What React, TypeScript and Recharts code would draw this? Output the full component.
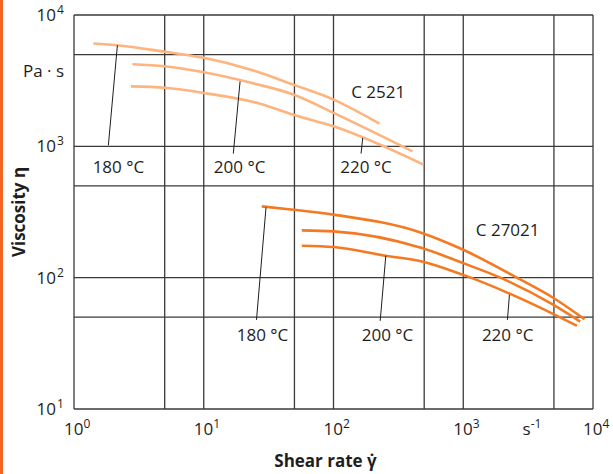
import { LineChart, Line, XAxis, YAxis, ReferenceLine, ReferenceDot } from "recharts";

const FONT = '"Open Sans", "Noto Sans", sans-serif';
const LIGHT = "#FDB47E";
const DARK = "#F47A22";
const GRID = "#3a3a3a";
const INK = "#1e1e1e";

// C 2521 (shear rate 1/s, viscosity Pa·s)
const c2521Rate180 = [1.41, 2.13, 5, 10, 22.7, 49, 100, 226];
const c2521Visc180 = [6070, 5890, 5250, 4720, 3850, 2950, 2270, 1490];
const c2521Rate200 = [2.82, 5, 10, 22.7, 49, 100, 406];
const c2521Visc200 = [4220, 4070, 3660, 3060, 2480, 1800, 916];
const c2521Rate220 = [2.75, 5, 10, 27.2, 49, 100, 493];
const c2521Visc220 = [2860, 2790, 2550, 2110, 1740, 1420, 726];

// C 27021
const c27021Rate180 = [28, 49, 100, 480, 1000, 2590, 4960, 8600];
const c27021Visc180 = [349, 329, 302, 219, 163, 100, 70, 48.3];
const c27021Rate200 = [57, 100, 480, 1000, 1930, 4960, 7970];
const c27021Visc200 = [229, 225, 168, 129, 100, 62, 46.3];
const c27021Rate220 = [57, 100, 250, 480, 1000, 4960, 7510];
const c27021Visc220 = [175, 171, 147, 133, 105, 52.8, 43];

const xTicks = [1, 10, 100, 1000, 10000];
const yTicks = [10, 100, 1000, 10000];
const xGrid = [5, 10, 50, 100, 500, 1000, 5000, 10000];
const yGrid = [50, 100, 500, 1000, 5000, 10000];

// temperature labels: text anchor + leader line (curve point -> label), in data units
const tempLabels = [
  { text: "180 °C", x: 2.2, y: 700, from: [2.16, 5890], to: [1.84, 1018] },
  { text: "200 °C", x: 18.9, y: 700, from: [19.05, 3125], to: [16.9, 880] },
  { text: "220 °C", x: 178, y: 700, from: [168, 1159], to: [163, 880] },
  { text: "180 °C", x: 28.4, y: 36.7, from: [30.2, 343], to: [25.5, 47.7] },
  { text: "200 °C", x: 261, y: 36.7, from: [253, 147], to: [229, 46.9] },
  { text: "220 °C", x: 2200, y: 36.7, from: [2270, 74.1], to: [2190, 47.7] },
];
const gradeLabels = [
  { text: "C 2521", x: 221, y: 2590 },
  { text: "C 27021", x: 2200, y: 232 },
];

const zip = (rate: number[], visc: number[]) => rate.map((r, i) => ({ rate: r, visc: visc[i] }));

const series = [
  { key: "c2521-180", data: zip(c2521Rate180, c2521Visc180), color: LIGHT },
  { key: "c2521-200", data: zip(c2521Rate200, c2521Visc200), color: LIGHT },
  { key: "c2521-220", data: zip(c2521Rate220, c2521Visc220), color: LIGHT },
  { key: "c27021-180", data: zip(c27021Rate180, c27021Visc180), color: DARK },
  { key: "c27021-200", data: zip(c27021Rate200, c27021Visc200), color: DARK },
  { key: "c27021-220", data: zip(c27021Rate220, c27021Visc220), color: DARK },
];

const XTick = (props: any) => {
  const { x, y, payload } = props;
  const exp = Math.round(Math.log10(payload.value));
  return (
    <text x={x - 10} y={y + 26} fontSize={17} fill={INK} fontFamily={FONT}>
      10
      <tspan dy={-7} fontSize={12}>{exp}</tspan>
    </text>
  );
};

const YTick = (props: any) => {
  const { x, y, payload } = props;
  const exp = Math.round(Math.log10(payload.value));
  return (
    <text x={x - 18} y={y + 6} fontSize={17} fill={INK} fontFamily={FONT} textAnchor="end">
      10
      <tspan x={x - 17} dy={-7} fontSize={12} textAnchor="start">{exp}</tspan>
    </text>
  );
};

const centered = (value: string) => (p: any) => {
  const vb = p.viewBox || {};
  return (
    <text x={vb.x + (vb.width || 0) / 2} y={vb.y + (vb.height || 0) / 2} dy="0.35em"
      textAnchor="middle" fontSize={17} fill={INK} fontFamily={FONT}>
      {value}
    </text>
  );
};

const App = () => {
  return (
    <div style={{ position: "absolute", left: 0, top: 0, width: 613, height: 474, background: "#fff" }}>
      <div style={{ position: "absolute", left: 0, top: 0, width: 3, height: 474, background: "#F26522" }} />
      <LineChart width={613} height={474} margin={{ top: 15, right: 20, bottom: 0, left: 0 }}
        style={{ fontFamily: FONT }}>
        <XAxis dataKey="rate" type="number" scale="log" domain={[1, 10000]} allowDataOverflow
          ticks={xTicks} tick={<XTick />} tickLine={false} tickSize={0} tickMargin={0} height={65}
          axisLine={{ stroke: GRID, strokeWidth: 1.3 }}
          label={{
            content: (p: any) => {
              const vb = p.viewBox || {};
              return (
                <text x={vb.x + vb.width / 2 - 8} y={vb.y + 58} textAnchor="middle" fontSize={17}
                  fontWeight="bold" fill={INK} fontFamily={FONT}>
                  Shear rate {"\u03B3\u0307"}
                </text>
              );
            },
          }} />
        <YAxis dataKey="visc" type="number" scale="log" domain={[10, 10000]} allowDataOverflow
          ticks={yTicks} tick={<YTick />} tickLine={false} tickSize={0} tickMargin={0} width={74}
          axisLine={{ stroke: GRID, strokeWidth: 1.3 }}
          label={{
            content: (p: any) => {
              const vb = p.viewBox || {};
              const cy = vb.y + vb.height / 2;
              return (
                <text x={19} y={cy} dy="0.35em" textAnchor="middle" fontSize={17} fontWeight="bold"
                  fill={INK} fontFamily={FONT} transform={`rotate(-90 19 ${cy})`}>
                  Viscosity η
                </text>
              );
            },
          }} />
        {xGrid.map((v) => (
          <ReferenceLine key={"gx" + v} x={v} stroke={GRID} strokeWidth={1.3} ifOverflow="visible" />
        ))}
        {yGrid.map((v) => (
          <ReferenceLine key={"gy" + v} y={v} stroke={GRID} strokeWidth={1.3} ifOverflow="visible" />
        ))}
        {series.map((s) => (
          <Line key={s.key} data={s.data} dataKey="visc" type="monotone" stroke={s.color}
            strokeWidth={2.6} dot={false} activeDot={false} isAnimationActive={false} />
        ))}
        {tempLabels.map((l, i) => (
          <ReferenceLine key={"ld" + i} segment={[{ x: l.from[0], y: l.from[1] }, { x: l.to[0], y: l.to[1] }]}
            stroke={INK} strokeWidth={1} ifOverflow="visible" />
        ))}
        {tempLabels.map((l, i) => (
          <ReferenceDot key={"lt" + i} x={l.x} y={l.y} r={0} fill="none" stroke="none"
            ifOverflow="visible" label={{ content: centered(l.text) }} />
        ))}
        {gradeLabels.map((g) => (
          <ReferenceDot key={g.text} x={g.x} y={g.y} r={0} fill="none" stroke="none"
            ifOverflow="visible" label={{ content: centered(g.text) }} />
        ))}
        <ReferenceDot x={1} y={3775} r={0} fill="none" stroke="none" ifOverflow="visible"
          label={{
            content: (p: any) => {
              const vb = p.viewBox || {};
              return (
                <text x={vb.x - 10} y={vb.y} dy="0.35em" textAnchor="end" fontSize={17} fill={INK} fontFamily={FONT}>
                  Pa · s
                </text>
              );
            },
          }} />
        <ReferenceDot x={3300} y={10} r={0} fill="none" stroke="none" ifOverflow="visible"
          label={{
            content: (p: any) => {
              const vb = p.viewBox || {};
              return (
                <text x={vb.x - 8} y={vb.y + 26} fontSize={17} fill={INK} fontFamily={FONT}>
                  s
                  <tspan dy={-7} fontSize={12}>-1</tspan>
                </text>
              );
            },
          }} />
      </LineChart>
    </div>
  );
};

export default App;
